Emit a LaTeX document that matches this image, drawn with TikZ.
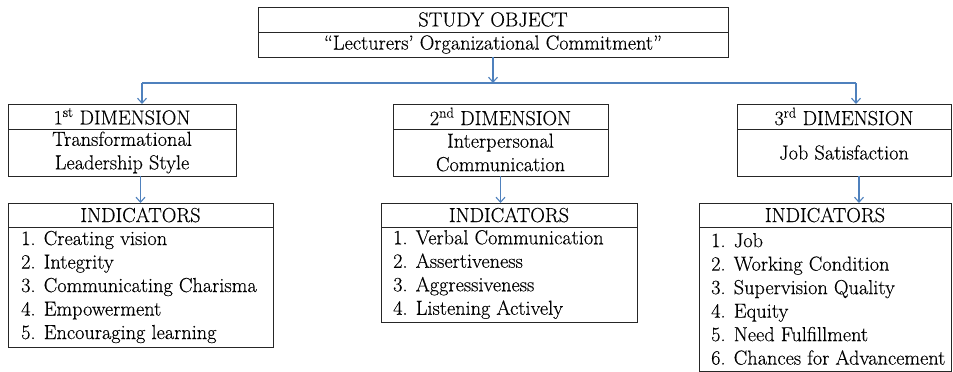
\documentclass[tikz,border=0pt]{standalone}
\usepackage{fontspec}
\setmainfont{Latin Modern Roman}[FakeBold=0.3]
\usetikzlibrary{positioning,arrows.meta}
\definecolor{linkblue}{RGB}{79,129,189}

\begin{document}
\begin{tikzpicture}[x=1pt, y=-1pt,
    box/.style={draw=black!85, line width=1pt, inner sep=0pt, outer sep=0pt,
        align=center, font=\fontsize{20.3}{23.5}\selectfont},
    head/.style={box, minimum height=25pt},
    items/.style={inner sep=0pt, align=left, font=\fontsize{20.3}{23.5}\selectfont},
    link/.style={draw=linkblue, line width=1.1pt},
    arrow/.style={link, -{Straight Barb[length=5pt,width=9pt]}}]

    % Page frame
    \useasboundingbox (0,0) rectangle (953,372);

    % Study object
    \node[head, minimum width=470pt] (study) at (493,19.5) {STUDY OBJECT};
    \node[head, minimum width=470pt, below=0pt of study] (object)
        {“Lecturers’ Organizational Commitment”};

    % Dimensions
    \node[head, minimum width=228pt] (dim1) at (122,116.5) {1\textsuperscript{st} DIMENSION};
    \node[box, minimum width=228pt, minimum height=47pt, below=0pt of dim1] (dim1-body)
        {Transformational\\Leadership Style};
    \node[head, minimum width=215pt] (dim2) at (500.5,116.5) {2\textsuperscript{nd} DIMENSION};
    \node[box, minimum width=215pt, minimum height=47pt, below=0pt of dim2] (dim2-body)
        {Interpersonal\\Communication};
    \node[head, minimum width=214pt] (dim3) at (844,116.5) {3\textsuperscript{rd} DIMENSION};
    \node[box, minimum width=214pt, minimum height=47pt, below=0pt of dim3] (dim3-body)
        {Job Satisfaction};

    % Indicators
    \node[head, minimum width=265pt, minimum height=24pt] (ind1) at (140.5,215) {INDICATORS};
    \node[box, minimum width=265pt, minimum height=120pt, below=0pt of ind1] (ind1-body) {};
    \node[items, right=13pt of ind1-body.west] (ind1-list)
        {1. Creating vision\\2. Integrity\\3. Communicating Charisma\\4. Empowerment\\5. Encouraging learning};

    \node[head, minimum width=256pt, minimum height=24pt] (ind2) at (509,215) {INDICATORS};
    \node[box, minimum width=256pt, minimum height=95pt, below=0pt of ind2] (ind2-body) {};
    \node[items, right=12pt of ind2-body.west] (ind2-list)
        {1. Verbal Communication\\2. Assertiveness\\3. Aggressiveness\\4. Listening Actively};

    \node[head, minimum width=252pt, minimum height=24pt] (ind3) at (825,215) {INDICATORS};
    \node[box, minimum width=252pt, minimum height=144pt, below=0pt of ind3] (ind3-body) {};
    \node[items, right=12pt of ind3-body.west] (ind3-list)
        {1. Job\\2. Working Condition\\3. Supervision Quality\\4. Equity\\5. Need Fulfillment\\6. Chances for Advancement};

    % Connectors
    \coordinate (busL) at (142,83);
    \coordinate (busR) at (856,83);
    \draw[link] (busL) -- (busR);
    \draw[arrow] (object.south) -- (object.south |- busL);
    \draw[arrow] (busL) -- (busL |- dim1.north);
    \draw[arrow] (busR) -- (busR |- dim3.north);
    \draw[arrow] (ind1.north |- dim1-body.south) -- (ind1.north);
    \draw[arrow] (dim2-body.south) -- (dim2-body.south |- ind2.north);
    \draw[arrow] ([xshift=15pt]dim3-body.south) -- ([xshift=15pt]dim3-body.south |- ind3.north);

\end{tikzpicture}
\end{document}
